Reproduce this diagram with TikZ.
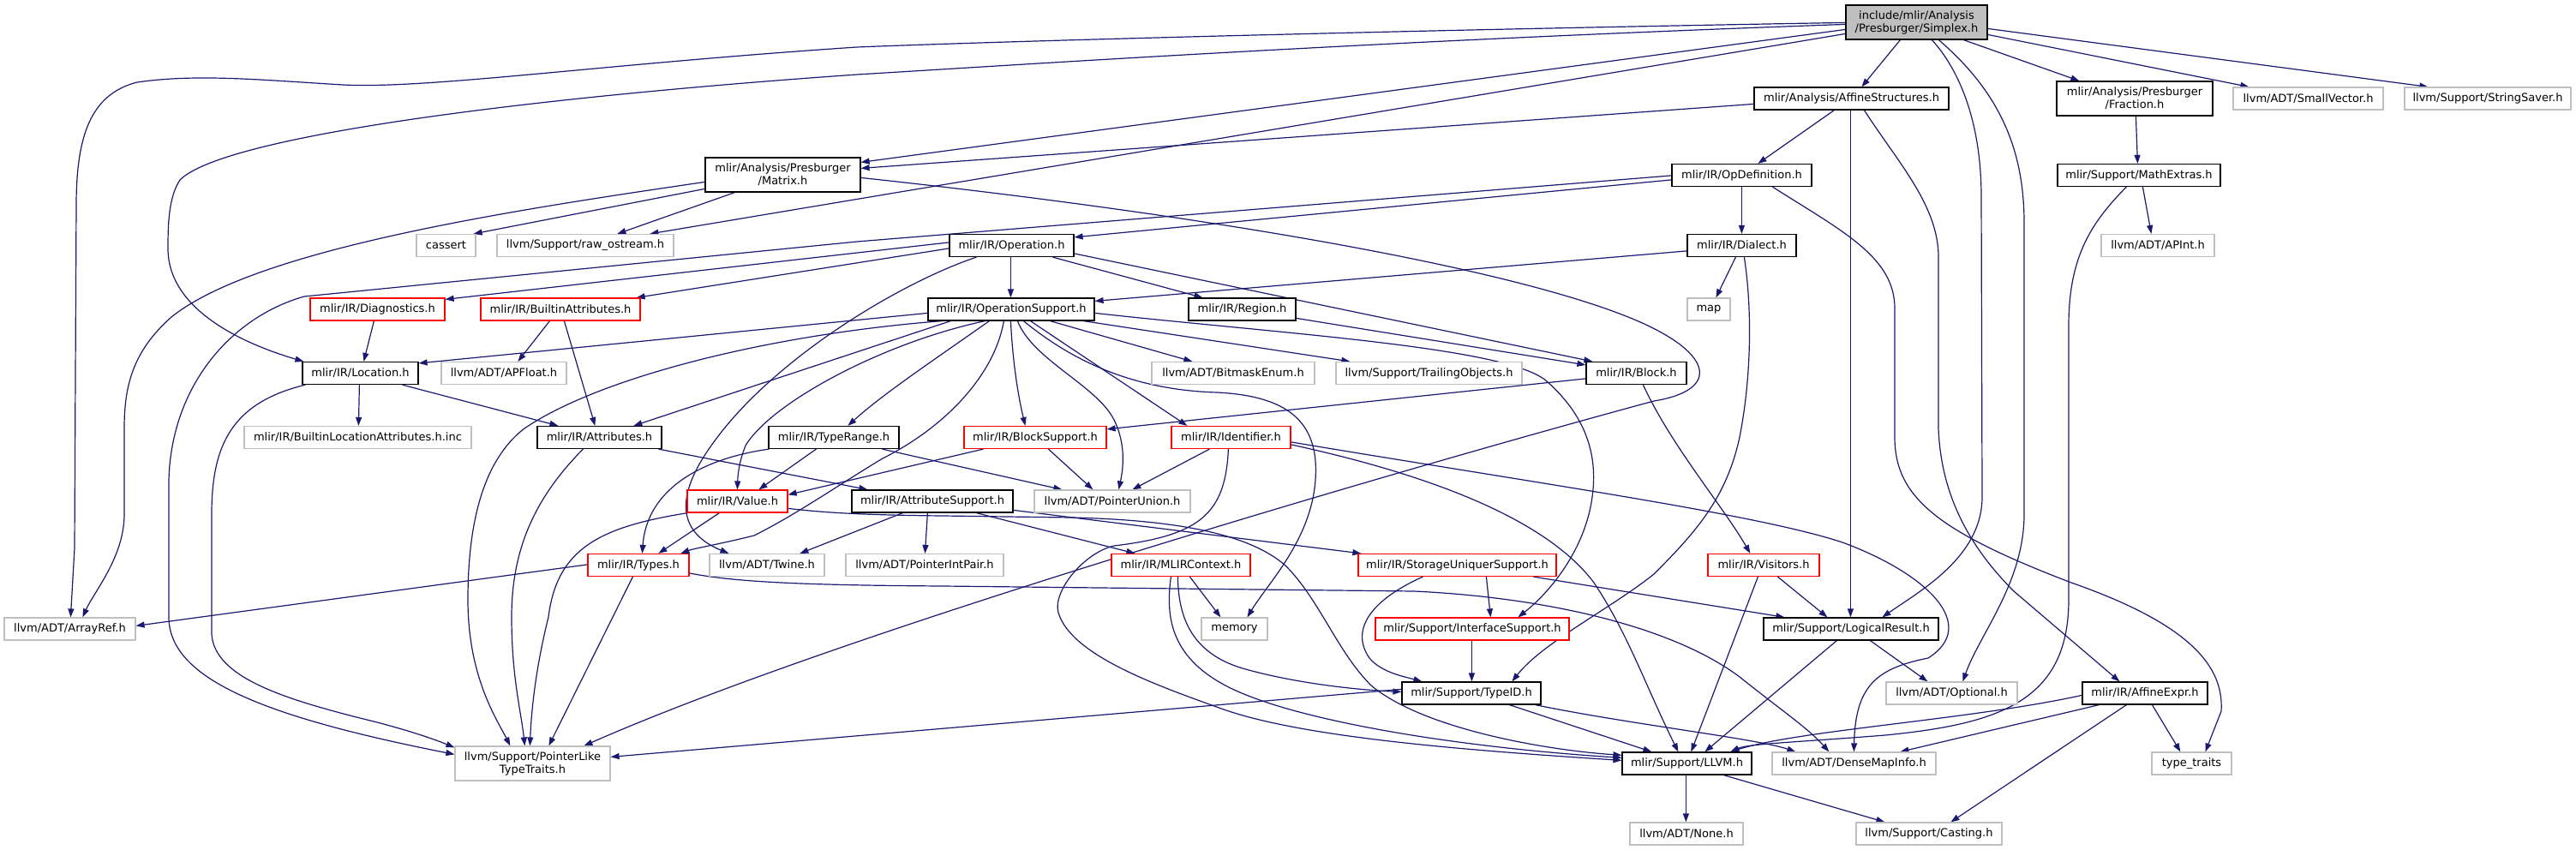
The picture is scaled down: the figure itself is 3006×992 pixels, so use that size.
\documentclass[tikz,border=0pt]{standalone}
\usepackage{fontspec}
\setmainfont{DejaVu Sans}
\usetikzlibrary{arrows.meta}
\definecolor{edgec}{HTML}{191970}
\definecolor{grayb}{HTML}{BFBFBF}
\definecolor{redb}{HTML}{FF0000}
\tikzset{
  nb/.style={draw=black, fill=white, rectangle, inner sep=0pt, line width=1.2pt, font=\fontsize{13pt}{15pt}\selectfont, align=center, text=black},
  ng/.style={nb, draw=grayb},
  nr/.style={nb, draw=redb},
  ns/.style={nb, fill=grayb},
  e/.style={draw=edgec, line width=1.2pt, line join=round, -{Triangle[length=10pt,width=7pt]}},
}
\begin{document}
\begin{tikzpicture}[x=1pt,y=-1pt]
\useasboundingbox (0,0) rectangle (3006,992);
% ---------- nodes (placed first so names exist; redrawn on top later) ----------
\begin{scope}[every node/.append style={minimum height=26pt}]
\node[ns,minimum width=165pt,minimum height=40pt] (simplex) at (2236.5,26) {include/mlir/Analysis\\/Presburger/Simplex.h};
\node[nb,minimum width=227pt] (affstruct) at (2160.5,115) {mlir/Analysis/AffineStructures.h};
\node[nb,minimum width=182pt,minimum height=40pt] (fraction) at (2491,115) {mlir/Analysis/Presburger\\/Fraction.h};
\node[ng,minimum width=175pt] (smallvec) at (2693.5,115) {llvm/ADT/SmallVector.h};
\node[ng,minimum width=194pt] (strsaver) at (2903,115) {llvm/Support/StringSaver.h};
\node[nb,minimum width=181pt,minimum height=40pt] (matrix) at (913.5,204) {mlir/Analysis/Presburger\\/Matrix.h};
\node[nb,minimum width=163pt] (opdef) at (2032.5,204.5) {mlir/IR/OpDefinition.h};
\node[nb,minimum width=190pt] (mathext) at (2496,204.5) {mlir/Support/MathExtras.h};
\node[ng,minimum width=69pt] (cassert) at (520.5,286.5) {cassert};
\node[ng,minimum width=206pt] (rawost) at (683,286.5) {llvm/Support/raw\_ostream.h};
\node[nb,minimum width=145pt] (operation) at (1180.5,286.5) {mlir/IR/Operation.h};
\node[nb,minimum width=127pt] (dialect) at (2032.5,286.5) {mlir/IR/Dialect.h};
\node[ng,minimum width=132pt] (apint) at (2518,286.5) {llvm/ADT/APInt.h};
\node[nr,minimum width=157pt] (diag) at (440.5,361) {mlir/IR/Diagnostics.h};
\node[nr,minimum width=186pt] (builtinattr) at (654,361) {mlir/IR/BuiltinAttributes.h};
\node[nb,minimum width=194pt] (opsupport) at (1180,361) {mlir/IR/OperationSupport.h};
\node[nb,minimum width=125pt] (region) at (1449.5,361) {mlir/IR/Region.h};
\node[ng,minimum width=50pt] (map) at (1994,361) {map};
\node[nb,minimum width=135pt] (location) at (420.5,435.5) {mlir/IR/Location.h};
\node[ng,minimum width=146pt] (apfloat) at (588,435.5) {llvm/ADT/APFloat.h};
\node[ng,minimum width=190pt] (bitmask) at (1439,435.5) {llvm/ADT/BitmaskEnum.h};
\node[ng,minimum width=217pt] (trailing) at (1667.5,435.5) {llvm/Support/TrailingObjects.h};
\node[nb,minimum width=117pt] (block) at (1909.5,435.5) {mlir/IR/Block.h};
\node[ng,minimum width=265pt] (bla) at (417.5,510.5) {mlir/IR/BuiltinLocationAttributes.h.inc};
\node[nb,minimum width=145pt] (attributes) at (699.5,510.5) {mlir/IR/Attributes.h};
\node[nb,minimum width=152pt] (typerange) at (973,510.5) {mlir/IR/TypeRange.h};
\node[nr,minimum width=166pt] (blocksupport) at (1208,510.5) {mlir/IR/BlockSupport.h};
\node[nr,minimum width=139pt] (identifier) at (1436.5,510.5) {mlir/IR/Identifier.h};
\node[nr,minimum width=117pt] (value) at (860.5,585) {mlir/IR/Value.h};
\node[nb,minimum width=188pt] (attrsupport) at (1088,585) {mlir/IR/AttributeSupport.h};
\node[ng,minimum width=182pt] (ptrunion) at (1298,585) {llvm/ADT/PointerUnion.h};
\node[nr,minimum width=118pt] (types) at (745,659.5) {mlir/IR/Types.h};
\node[ng,minimum width=134pt] (twine) at (895,659.5) {llvm/ADT/Twine.h};
\node[ng,minimum width=184pt] (ptrintpair) at (1079,659.5) {llvm/ADT/PointerIntPair.h};
\node[nr,minimum width=162pt] (mlircontext) at (1378,659.5) {mlir/IR/MLIRContext.h};
\node[nr,minimum width=231pt] (sus) at (1700.5,659.5) {mlir/IR/StorageUniquerSupport.h};
\node[nr,minimum width=130pt] (visitors) at (2058,659.5) {mlir/IR/Visitors.h};
\node[ng,minimum width=153pt] (arrayref) at (81.5,734) {llvm/ADT/ArrayRef.h};
\node[ng,minimum width=77pt] (memory) at (1440.5,734) {memory};
\node[nr,minimum width=226pt] (ifacesupport) at (1718,734) {mlir/Support/InterfaceSupport.h};
\node[nb,minimum width=204pt] (logical) at (2160,734) {mlir/Support/LogicalResult.h};
\node[nb,minimum width=162pt] (typeid) at (1717,809) {mlir/Support/TypeID.h};
\node[ng,minimum width=153pt] (optional) at (2277.5,809) {llvm/ADT/Optional.h};
\node[nb,minimum width=146pt] (affexpr) at (2503,809) {mlir/IR/AffineExpr.h};
\node[ng,minimum width=181pt,minimum height=40pt] (ptt) at (621.5,891) {llvm/Support/PointerLike\\TypeTraits.h};
\node[nb,minimum width=151pt] (llvm) at (1968.5,891) {mlir/Support/LLVM.h};
\node[ng,minimum width=191pt] (densemap) at (2163.5,891) {llvm/ADT/DenseMapInfo.h};
\node[ng,minimum width=93pt] (typetraits) at (2557.5,891) {type\_traits};
\node[ng,minimum width=132pt] (none) at (1968,973) {llvm/ADT/None.h};
\node[ng,minimum width=170pt] (casting) at (2251,973) {llvm/Support/Casting.h};
\end{scope}
% ---------- edges ----------
% Simplex
\draw[e] ([yshift=-21pt]simplex.north west) .. controls (1700,34) and (1200,47) .. (1000,55) .. controls (700,75) and (500,104) .. (400,99) .. controls (300,93) and (230,86) .. (160,96) .. controls (105,110) and (89,160) .. (89,240) -- (87,640) -- ([xshift=78pt]arrayref.north west);
\draw[e] ([yshift=-23pt]simplex.north west) .. controls (1600,48) and (1200,75) .. (1000,87) .. controls (600,115) and (260,160) .. (210,210) .. controls (197,230) and (196,260) .. (196,290) .. controls (196,360) and (280,400) .. ([xshift=2pt]location.north west);
\draw[e] ([yshift=-29pt]simplex.north west) -- ([yshift=-6pt]matrix.north east);
\draw[e] ([yshift=-34pt]simplex.north west) -- ([xshift=179pt]rawost.north west);
\draw[e] ([xshift=64pt]simplex.south west) -- ([xshift=126pt]affstruct.north west);
\draw[e] ([xshift=138pt]simplex.south west) -- ([xshift=27pt]fraction.north west);
\draw[e] ([yshift=-35pt]simplex.north east) -- ([xshift=19pt]smallvec.north west);
\draw[e] ([yshift=-28pt]simplex.north east) -- ([xshift=28pt]strsaver.north west);
\draw[e] ([xshift=101pt]simplex.south west) .. controls (2285,80) and (2312,140) .. (2312,230) -- (2313,580) .. controls (2313,650) and (2240,690) .. ([xshift=139pt]logical.north west);
\draw[e] ([xshift=109pt]simplex.south west) .. controls (2330,105) and (2362,170) .. (2362,260) -- (2362,600) .. controls (2362,680) and (2310,740) .. ([xshift=90pt]optional.north west);
% AffineStructures
\draw[e] ([yshift=-20pt]affstruct.north west) -- ([yshift=-13pt]matrix.north east);
\draw[e] ([xshift=94pt]affstruct.south west) -- ([xshift=101pt]opdef.north west);
\draw[e] ([xshift=113pt]affstruct.south west) -- ([xshift=102pt]logical.north west);
\draw[e] ([xshift=129pt]affstruct.south west) .. controls (2215,190) and (2262,240) .. (2262,300) -- (2262,500) .. controls (2265,580) and (2300,640) .. (2350,690) -- ([xshift=44pt]affexpr.north west);
% OpDefinition
\draw[e] ([yshift=-19pt]opdef.north west) -- ([yshift=-4pt]operation.north east);
\draw[e] ([yshift=-14pt]opdef.north west) -- (1000,282) -- (355,346) .. controls (270,370) and (200,450) .. (197,560) -- (197,720) .. controls (197,790) and (300,835) .. ([yshift=-10pt]ptt.north west);
\draw[e] ([xshift=82pt]opdef.south west) -- ([xshift=64pt]dialect.north west);
\draw[e] ([xshift=118pt]opdef.south west) .. controls (2150,270) and (2211,300) .. (2211,360) -- (2211,510) .. controls (2211,580) and (2260,620) .. (2417,680) .. controls (2560,730) and (2595,780) .. (2592,830) -- ([xshift=63pt]typetraits.north west);
% Fraction / MathExtras
\draw[e] ([xshift=93pt]fraction.south west) -- ([xshift=94pt]mathext.north west);
\draw[e] ([xshift=100pt]mathext.south west) -- ([xshift=59pt]apint.north west);
\draw[e] ([xshift=81pt]mathext.south west) .. controls (2440,260) and (2414,300) .. (2414,380) -- (2414,700) .. controls (2414,820) and (2330,845) .. (2200,858) .. controls (2100,866) and (2040,868) .. ([xshift=127pt]llvm.north west);
% Matrix
\draw[e] ([yshift=-29pt]matrix.north west) .. controls (600,245) and (300,290) .. (200,370) .. controls (155,410) and (145,450) .. (145,500) -- (145,600) .. controls (145,650) and (110,690) .. ([xshift=92pt]arrayref.north west);
\draw[e] ([yshift=-37pt]matrix.north west) -- ([xshift=-3pt]cassert.north east);
\draw[e] ([xshift=35pt]matrix.south west) -- ([xshift=141pt]rawost.north west);
\draw[e] ([yshift=-24pt]matrix.north east) .. controls (1400,250) and (1750,310) .. (1900,370) .. controls (2000,410) and (2010,455) .. (1930,468) .. controls (1700,530) and (1000,730) .. ([xshift=151pt]ptt.north west);
% Operation
\draw[e] ([xshift=72pt]operation.south west) -- ([xshift=97pt]opsupport.north west);
\draw[e] ([xshift=121pt]operation.south west) -- ([xshift=17pt]region.north west);
\draw[e] ([yshift=-23pt]operation.north east) -- ([xshift=8pt]block.north west);
\draw[e] ([xshift=32pt]operation.south west) .. controls (1050,330) and (900,420) .. (830,520) .. controls (780,590) and (800,625) .. ([xshift=23pt]twine.north west);
\draw[e] ([yshift=-10pt]operation.north west) -- ([yshift=-2pt]diag.north east);
\draw[e] ([yshift=-17pt]operation.north west) -- ([xshift=-5pt]builtinattr.north east);
% Dialect
\draw[e] ([yshift=-20pt]dialect.north west) -- ([yshift=-4pt]opsupport.north east);
\draw[e] ([xshift=57pt]dialect.south west) -- ([xshift=34pt]map.north west);
\draw[e] ([xshift=67pt]dialect.south west) .. controls (2046,370) and (2042,450) .. (2030,510) .. controls (2015,580) and (1980,620) .. (1930,670) .. controls (1880,710) and (1800,750) .. ([xshift=129pt]typeid.north west);
% OperationSupport
\draw[e] ([yshift=-18pt]opsupport.north west) -- ([yshift=-2pt]location.north east);
\draw[e] ([xshift=17pt]opsupport.south west) .. controls (900,390) and (700,440) .. (612,500) .. controls (560,540) and (546,620) .. (546,700) .. controls (546,790) and (580,840) .. ([xshift=65pt]ptt.north west);
\draw[e] ([xshift=27pt]opsupport.south west) -- ([xshift=113pt]attributes.north west);
\draw[e] ([xshift=67pt]opsupport.south west) .. controls (1030,400) and (900,470) .. (870,520) .. controls (862,540) and (861,555) .. ([xshift=59pt]value.north west);
\draw[e] ([xshift=72pt]opsupport.south west) .. controls (1090,420) and (1030,460) .. ([xshift=93pt]typerange.north west);
\draw[e] ([xshift=89pt]opsupport.south west) .. controls (1160,440) and (1100,500) .. (1030,535) .. controls (980,565) and (930,600) .. (880,625) .. controls (840,635) and (810,640) .. ([xshift=109pt]types.north west);
\draw[e] ([xshift=97pt]opsupport.south west) .. controls (1182,430) and (1190,470) .. ([xshift=72pt]blocksupport.north west);
\draw[e] ([xshift=105pt]opsupport.south west) .. controls (1205,420) and (1280,450) .. (1300,490) .. controls (1315,520) and (1310,550) .. ([xshift=99pt]ptrunion.north west);
\draw[e] ([xshift=112pt]opsupport.south west) .. controls (1250,420) and (1320,455) .. (1420,458) .. controls (1500,462) and (1540,490) .. (1535,560) .. controls (1530,630) and (1480,680) .. ([xshift=54pt]memory.north west);
\draw[e] ([xshift=120pt]opsupport.south west) -- ([xshift=19pt]identifier.north west);
\draw[e] ([xshift=143pt]opsupport.south west) -- ([xshift=48pt]bitmask.north west);
\draw[e] ([xshift=182pt]opsupport.south west) -- ([xshift=17pt]trailing.north west);
\draw[e] ([yshift=-18pt]opsupport.north east) .. controls (1500,390) and (1760,405) .. (1805,445) .. controls (1850,485) and (1865,530) .. (1858,580) .. controls (1850,640) and (1810,690) .. ([xshift=167pt]ifacesupport.north west);
% Region / Block
\draw[e] ([yshift=-24pt]region.north east) -- ([yshift=-4pt]block.north west);
\draw[e] ([yshift=-20pt]block.north west) -- ([yshift=-4pt]blocksupport.north east);
\draw[e] ([xshift=67pt]block.south west) .. controls (1950,520) and (2010,590) .. ([xshift=50pt]visitors.north west);
% Diagnostics / BuiltinAttributes / Location
\draw[e] ([xshift=75pt]diag.south west) -- ([xshift=72pt]location.north west);
\draw[e] ([xshift=81pt]builtinattr.south west) -- ([xshift=90pt]apfloat.north west);
\draw[e] ([xshift=98pt]builtinattr.south west) -- ([xshift=68pt]attributes.north west);
\draw[e] ([xshift=67pt]location.south west) -- ([xshift=134pt]bla.north west);
\draw[e] ([xshift=117pt]location.south west) -- ([xshift=25pt]attributes.north west);
\draw[e] ([xshift=4pt]location.south west) .. controls (270,470) and (247,520) .. (247,600) -- (247,740) .. controls (250,790) and (330,815) .. (420,838) .. controls (470,850) and (505,862) .. ([yshift=-2pt]ptt.north west);
% Attributes / TypeRange / BlockSupport / Identifier
\draw[e] ([xshift=142pt]attributes.south west) -- ([xshift=19pt]attrsupport.north west);
\draw[e] ([xshift=54pt]attributes.south west) .. controls (625,580) and (597,640) .. (597,720) .. controls (597,790) and (608,830) .. ([xshift=82pt]ptt.north west);
\draw[e] ([xshift=56pt]typerange.south west) -- ([xshift=84pt]value.north west);
\draw[e] ([xshift=1pt]typerange.south west) .. controls (820,535) and (755,570) .. ([xshift=64pt]types.north west);
\draw[e] ([xshift=133pt]typerange.south west) -- ([xshift=33pt]ptrunion.north west);
\draw[e] ([xshift=23pt]blocksupport.south west) -- ([yshift=-6pt]value.north east);
\draw[e] ([xshift=99pt]blocksupport.south west) -- ([xshift=69pt]ptrunion.north west);
\draw[e] ([xshift=45pt]identifier.south west) -- ([xshift=115pt]ptrunion.north west);
\draw[e] ([yshift=-19pt]identifier.north east) .. controls (1800,565) and (2050,600) .. (2150,633) .. controls (2250,670) and (2310,730) .. (2250,768) .. controls (2190,780) and (2165,800) .. ([xshift=96pt]densemap.north west);
\draw[e] ([yshift=-22pt]identifier.north east) .. controls (1650,550) and (1800,600) .. (1860,680) .. controls (1900,740) and (1920,800) .. ([xshift=66pt]llvm.north west);
\draw[e] ([xshift=67pt]identifier.south west) .. controls (1430,600) and (1400,625) .. (1300,637) .. controls (1265,645) and (1228,690) .. (1235,715) .. controls (1250,765) and (1350,800) .. (1428,828) .. controls (1520,860) and (1700,875) .. ([yshift=-10pt]llvm.north west);
% Value / Types
\draw[e] ([xshift=38pt]value.south west) -- ([xshift=83pt]types.north west);
\draw[e] ([xshift=1pt]value.south west) .. controls (700,615) and (650,640) .. (640,720) .. controls (625,780) and (620,830) .. ([xshift=88pt]ptt.north west);
\draw[e] ([yshift=-22pt]value.north east) .. controls (960,598) and (1000,601) .. (1100,602) -- (1250,604) .. controls (1380,607) and (1460,625) .. (1500,660) .. controls (1540,700) and (1560,760) .. (1600,800) .. controls (1660,850) and (1800,875) .. ([yshift=-4pt]llvm.north west);
\draw[e] ([yshift=-13pt]types.north west) -- ([yshift=-10pt]arrayref.north east);
\draw[e] ([xshift=53pt]types.south west) -- ([xshift=110pt]ptt.north west);
\draw[e] ([yshift=-23pt]types.north east) .. controls (860,680) and (950,683) .. (1100,684) -- (1650,690) .. controls (1800,697) and (1950,730) .. (2030,790) .. controls (2080,830) and (2110,850) .. ([xshift=67pt]densemap.north west);
% AttributeSupport
\draw[e] ([xshift=89pt]attrsupport.south west) -- ([xshift=93pt]ptrintpair.north west);
\draw[e] ([xshift=146pt]attrsupport.south west) -- ([xshift=28pt]mlircontext.north west);
\draw[e] ([yshift=-24pt]attrsupport.north east) -- ([xshift=4pt]sus.north west);
\draw[e] ([xshift=60pt]attrsupport.south west) -- ([xshift=106pt]twine.north west);
% MLIRContext
\draw[e] ([xshift=92pt]mlircontext.south west) -- ([xshift=23pt]memory.north west);
\draw[e] ([xshift=78pt]mlircontext.south west) .. controls (1375,720) and (1390,762) .. (1450,780) .. controls (1520,800) and (1600,806) .. ([yshift=-12pt]typeid.north west);
\draw[e] ([xshift=70pt]mlircontext.south west) .. controls (1360,720) and (1365,770) .. (1440,805) .. controls (1520,842) and (1700,872) .. ([yshift=-7pt]llvm.north west);
% StorageUniquerSupport / InterfaceSupport
\draw[e] ([xshift=150pt]sus.south west) -- ([xshift=135pt]ifacesupport.north west);
\draw[e] ([xshift=76pt]sus.south west) .. controls (1600,700) and (1575,735) .. (1598,768) .. controls (1612,785) and (1640,790) .. ([xshift=24pt]typeid.north west);
\draw[e] ([xshift=205pt]sus.south west) -- ([xshift=25pt]logical.north west);
\draw[e] ([xshift=113pt]ifacesupport.south west) -- ([xshift=82pt]typeid.north west);
% Visitors / LogicalResult
\draw[e] ([xshift=82pt]visitors.south west) -- ([xshift=75pt]logical.north west);
\draw[e] ([xshift=59pt]visitors.south west) -- ([xshift=81pt]llvm.north west);
\draw[e] ([xshift=125pt]logical.south west) -- ([xshift=49pt]optional.north west);
\draw[e] ([xshift=86pt]logical.south west) -- ([xshift=97pt]llvm.north west);
% TypeID
\draw[e] ([xshift=126pt]typeid.south west) -- ([xshift=35pt]llvm.north west);
\draw[e] ([xshift=-7pt]typeid.south east) .. controls (1900,845) and (2050,862) .. ([xshift=28pt]densemap.north west);
\draw[e] ([yshift=-9pt]typeid.north west) -- ([yshift=-13pt]ptt.north east);
% AffineExpr
\draw[e] ([yshift=-16pt]affexpr.north west) .. controls (2300,840) and (2100,852) .. ([xshift=127pt]llvm.north west);
\draw[e] ([xshift=20pt]affexpr.south west) -- ([xshift=150pt]densemap.north west);
\draw[e] ([xshift=52pt]affexpr.south west) -- ([xshift=111pt]casting.north west);
\draw[e] ([xshift=82pt]affexpr.south west) -- ([xshift=34pt]typetraits.north west);
% LLVM
\draw[e] ([xshift=75pt]llvm.south west) -- ([xshift=66pt]none.north west);
\draw[e] ([xshift=119pt]llvm.south west) -- ([xshift=34pt]casting.north west);
% ---------- redraw nodes on top of edges ----------
\begin{scope}[every node/.append style={minimum height=26pt}]
\node[ns,minimum width=165pt,minimum height=40pt] at (simplex.center) {include/mlir/Analysis\\/Presburger/Simplex.h};
\node[nb,minimum width=227pt] at (affstruct.center) {mlir/Analysis/AffineStructures.h};
\node[nb,minimum width=182pt,minimum height=40pt] at (fraction.center) {mlir/Analysis/Presburger\\/Fraction.h};
\node[ng,minimum width=175pt] at (smallvec.center) {llvm/ADT/SmallVector.h};
\node[ng,minimum width=194pt] at (strsaver.center) {llvm/Support/StringSaver.h};
\node[nb,minimum width=181pt,minimum height=40pt] at (matrix.center) {mlir/Analysis/Presburger\\/Matrix.h};
\node[nb,minimum width=163pt] at (opdef.center) {mlir/IR/OpDefinition.h};
\node[nb,minimum width=190pt] at (mathext.center) {mlir/Support/MathExtras.h};
\node[ng,minimum width=69pt] at (cassert.center) {cassert};
\node[ng,minimum width=206pt] at (rawost.center) {llvm/Support/raw\_ostream.h};
\node[nb,minimum width=145pt] at (operation.center) {mlir/IR/Operation.h};
\node[nb,minimum width=127pt] at (dialect.center) {mlir/IR/Dialect.h};
\node[ng,minimum width=132pt] at (apint.center) {llvm/ADT/APInt.h};
\node[nr,minimum width=157pt] at (diag.center) {mlir/IR/Diagnostics.h};
\node[nr,minimum width=186pt] at (builtinattr.center) {mlir/IR/BuiltinAttributes.h};
\node[nb,minimum width=194pt] at (opsupport.center) {mlir/IR/OperationSupport.h};
\node[nb,minimum width=125pt] at (region.center) {mlir/IR/Region.h};
\node[ng,minimum width=50pt] at (map.center) {map};
\node[nb,minimum width=135pt] at (location.center) {mlir/IR/Location.h};
\node[ng,minimum width=146pt] at (apfloat.center) {llvm/ADT/APFloat.h};
\node[ng,minimum width=190pt] at (bitmask.center) {llvm/ADT/BitmaskEnum.h};
\node[ng,minimum width=217pt] at (trailing.center) {llvm/Support/TrailingObjects.h};
\node[nb,minimum width=117pt] at (block.center) {mlir/IR/Block.h};
\node[ng,minimum width=265pt] at (bla.center) {mlir/IR/BuiltinLocationAttributes.h.inc};
\node[nb,minimum width=145pt] at (attributes.center) {mlir/IR/Attributes.h};
\node[nb,minimum width=152pt] at (typerange.center) {mlir/IR/TypeRange.h};
\node[nr,minimum width=166pt] at (blocksupport.center) {mlir/IR/BlockSupport.h};
\node[nr,minimum width=139pt] at (identifier.center) {mlir/IR/Identifier.h};
\node[nr,minimum width=117pt] at (value.center) {mlir/IR/Value.h};
\node[nb,minimum width=188pt] at (attrsupport.center) {mlir/IR/AttributeSupport.h};
\node[ng,minimum width=182pt] at (ptrunion.center) {llvm/ADT/PointerUnion.h};
\node[nr,minimum width=118pt] at (types.center) {mlir/IR/Types.h};
\node[ng,minimum width=134pt] at (twine.center) {llvm/ADT/Twine.h};
\node[ng,minimum width=184pt] at (ptrintpair.center) {llvm/ADT/PointerIntPair.h};
\node[nr,minimum width=162pt] at (mlircontext.center) {mlir/IR/MLIRContext.h};
\node[nr,minimum width=231pt] at (sus.center) {mlir/IR/StorageUniquerSupport.h};
\node[nr,minimum width=130pt] at (visitors.center) {mlir/IR/Visitors.h};
\node[ng,minimum width=153pt] at (arrayref.center) {llvm/ADT/ArrayRef.h};
\node[ng,minimum width=77pt] at (memory.center) {memory};
\node[nr,minimum width=226pt] at (ifacesupport.center) {mlir/Support/InterfaceSupport.h};
\node[nb,minimum width=204pt] at (logical.center) {mlir/Support/LogicalResult.h};
\node[nb,minimum width=162pt] at (typeid.center) {mlir/Support/TypeID.h};
\node[ng,minimum width=153pt] at (optional.center) {llvm/ADT/Optional.h};
\node[nb,minimum width=146pt] at (affexpr.center) {mlir/IR/AffineExpr.h};
\node[ng,minimum width=181pt,minimum height=40pt] at (ptt.center) {llvm/Support/PointerLike\\TypeTraits.h};
\node[nb,minimum width=151pt] at (llvm.center) {mlir/Support/LLVM.h};
\node[ng,minimum width=191pt] at (densemap.center) {llvm/ADT/DenseMapInfo.h};
\node[ng,minimum width=93pt] at (typetraits.center) {type\_traits};
\node[ng,minimum width=132pt] at (none.center) {llvm/ADT/None.h};
\node[ng,minimum width=170pt] at (casting.center) {llvm/Support/Casting.h};
\end{scope}
\end{tikzpicture}
\end{document}
